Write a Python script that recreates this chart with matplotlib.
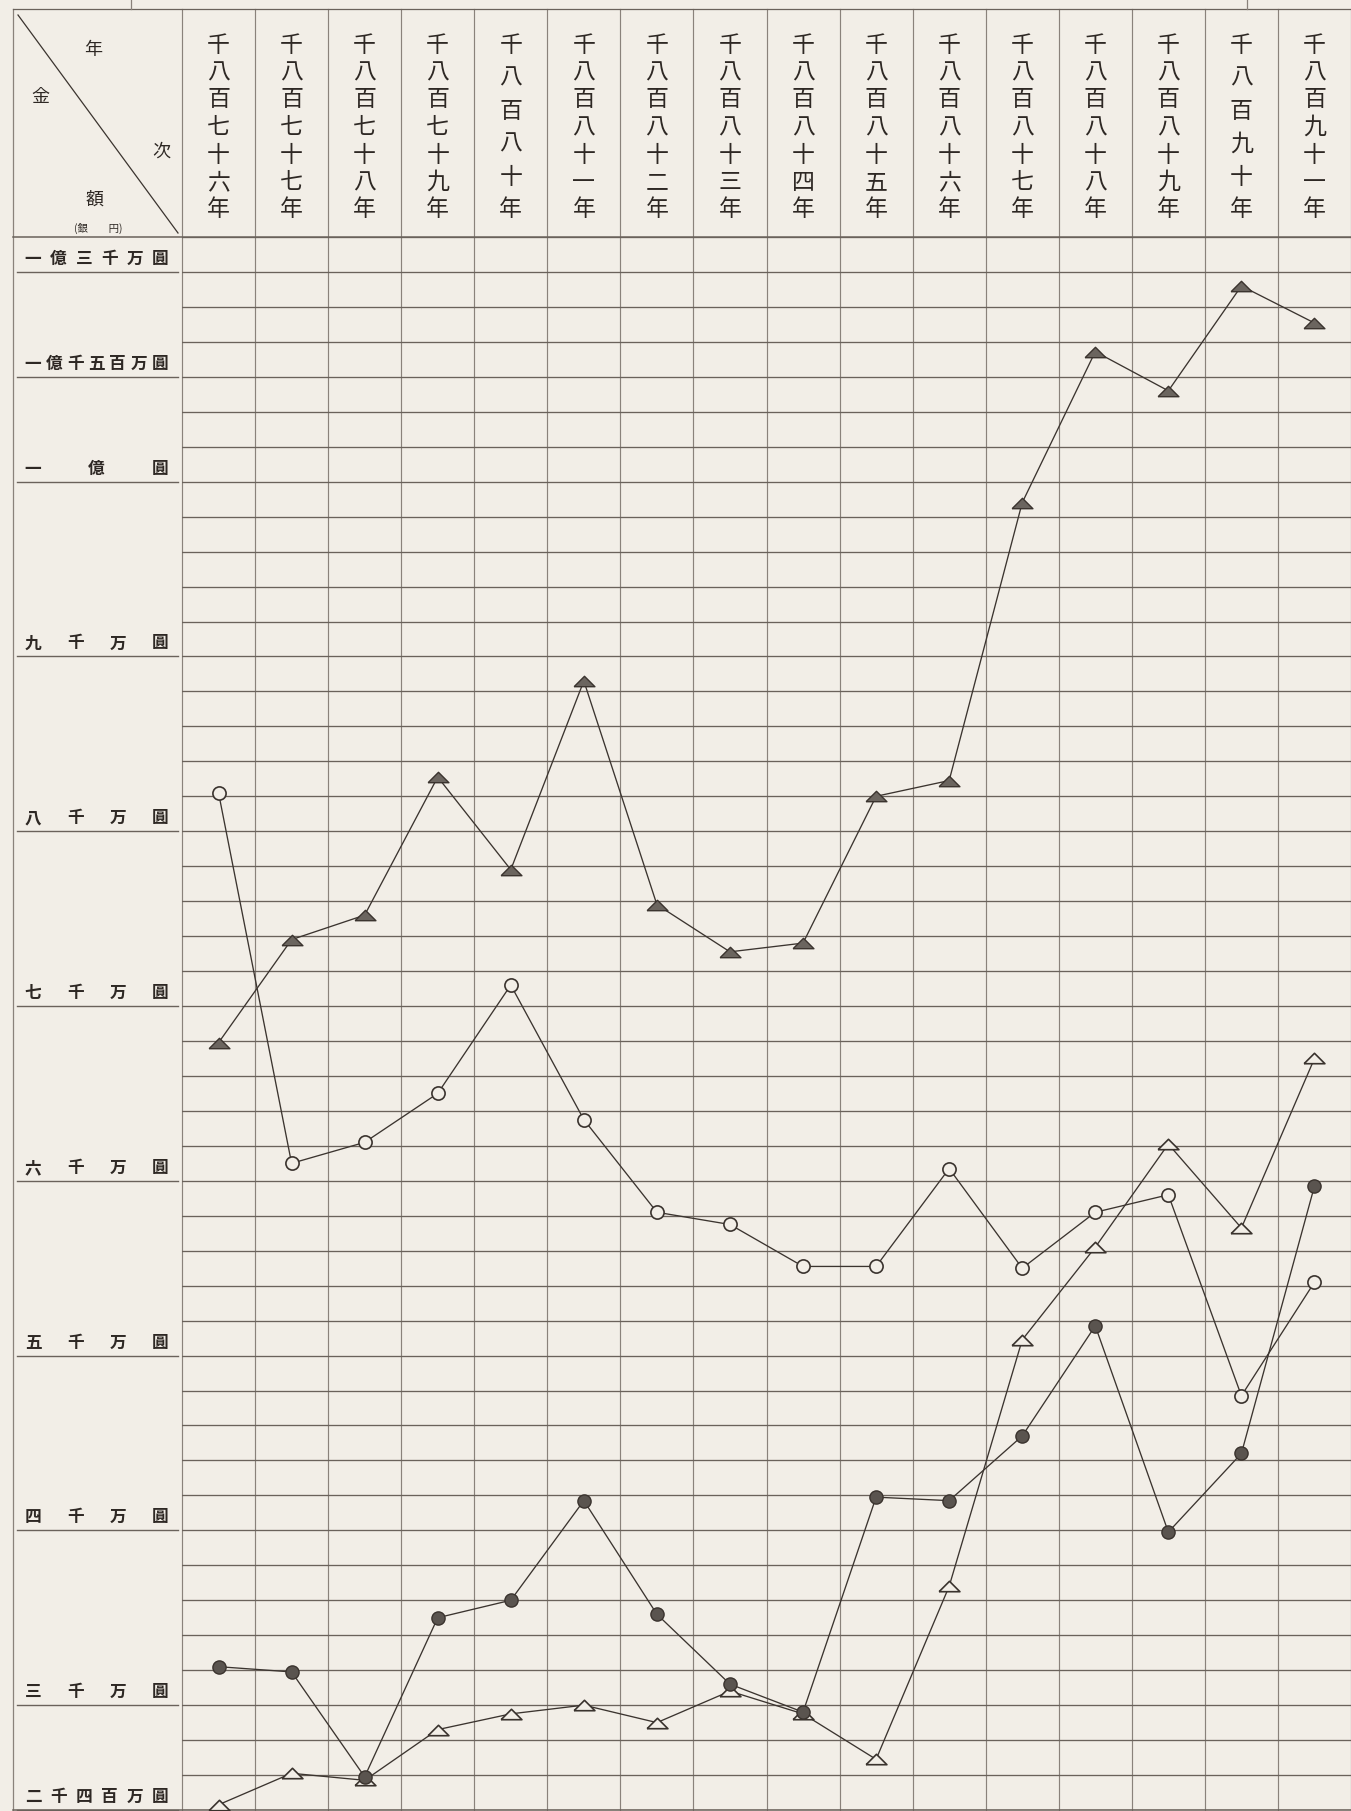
import numpy as np
import matplotlib
matplotlib.use("Agg")
import matplotlib.pyplot as plt
import matplotlib.transforms as mtransforms

# ---------------- data (values in millions of yen) ----------------
years = ["千八百七十六年", "千八百七十七年", "千八百七十八年", "千八百七十九年",
         "千八百八十年", "千八百八十一年", "千八百八十二年", "千八百八十三年",
         "千八百八十四年", "千八百八十五年", "千八百八十六年", "千八百八十七年",
         "千八百八十八年", "千八百八十九年", "千八百九十年", "千八百九十一年"]

filled_triangle = [67.9, 73.8, 75.2, 83.1, 77.8, 88.6, 75.8, 73.1,
                   73.6, 82.0, 82.9, 98.8, 118.6, 113.0, 128.0, 122.7]
open_circle = [82.2, 61.0, 62.2, 65.0, 71.2, 63.5, 58.2, 57.5,
               55.1, 55.1, 60.7, 55.0, 58.2, 59.2, 47.7, 54.2]
open_triangle = [24.3, 26.1, 25.7, 28.6, 29.5, 30.0, 29.0, 30.8,
                 29.5, 26.9, 36.8, 50.9, 56.2, 62.1, 57.3, 67.0]
filled_circle = [32.2, 31.9, 25.9, 35.0, 36.0, 41.7, 35.2, 31.2,
                 29.6, 41.9, 41.7, 45.4, 51.7, 39.9, 44.4, 59.7]

ylabel_values = [130, 115, 100, 90, 80, 70, 60, 50, 40, 30, 24]
ylabel_texts = ["一億三千万圓", "一億千五百万圓", "一億圓", "九千万圓", "八千万圓",
                "七千万圓", "六千万圓", "五千万圓", "四千万圓", "三千万圓", "二千四百万圓"]

# ---------------- style / layout ----------------
W, H, DPI = 1351, 1811, 100
PAPER = '#f2eee7'
INK = '#3b342f'
GRID_H = '#6a625b'
GRID_V = '#8a827b'
TEXT = '#2e2824'
plt.rcParams['font.family'] = ['Noto Sans CJK JP', 'DejaVu Sans']

LEFT_BORDER = 13
LEFT = 182
TOP_FRAME = 9
HEAD_BOT = 237
BOTTOM = 1810

fig = plt.figure(figsize=(W / DPI, H / DPI), dpi=DPI, facecolor=PAPER)
ov = fig.add_axes([0, 0, 1, 1], zorder=0)
ov.set_xlim(0, W)
ov.set_ylim(H, 0)
ov.axis('off')

ax = fig.add_axes([LEFT / W, (H - BOTTOM) / H, (W - LEFT) / W, (BOTTOM - HEAD_BOT) / H],
                  zorder=1)
ax.patch.set_visible(False)


def fwd(v):
    v = np.asarray(v, float)
    return np.where(v <= 100, v, 100 + (v - 100) * 0.4)


def inv(u):
    u = np.asarray(u, float)
    return np.where(u <= 100, u, 100 + (u - 100) / 0.4)


ax.set_yscale('function', functions=(fwd, inv))
ax.set_ylim(24, 135)
n = len(years)
x = np.arange(n)
ax.set_xlim(-0.5, n - 0.5)
grid_vals = list(np.arange(24, 100, 2)) + list(np.arange(100, 136, 5))
ax.set_yticks(grid_vals)
ax.set_xticks([])
ax.minorticks_off()
ax.tick_params(left=False, labelleft=False, bottom=False, labelbottom=False)
ax.grid(axis='y', color=GRID_H, lw=0.95)
for s in ax.spines.values():
    s.set_visible(False)

# blended transforms
tx_col = mtransforms.blended_transform_factory(ax.transData, ov.transData)   # x: year index, y: pixels
tx_row = mtransforms.blended_transform_factory(ov.transData, ax.transData)   # x: pixels, y: value

# vertical column lines (header + plot)
for b in np.arange(-0.5, n, 1.0):
    ov.plot([b, b], [TOP_FRAME, BOTTOM], transform=tx_col, color=GRID_V, lw=0.85)
# outer frame of label column
ov.plot([LEFT_BORDER, LEFT_BORDER], [TOP_FRAME, BOTTOM], color=GRID_V, lw=0.9)
ov.plot([LEFT_BORDER, W], [TOP_FRAME, TOP_FRAME], color=GRID_H, lw=0.9)
ov.plot([LEFT_BORDER, W], [HEAD_BOT, HEAD_BOT], color=GRID_H, lw=1.1)
ov.plot([LEFT_BORDER, W], [BOTTOM, BOTTOM], color=GRID_H, lw=1.1)
# small ticks above frame
ov.plot([131, 131], [0, TOP_FRAME], color=GRID_V, lw=0.9)
ov.plot([1247, 1247], [0, TOP_FRAME], color=GRID_V, lw=0.9)

# label column lines and labels
for v, lab in zip(ylabel_values, ylabel_texts):
    ov.plot([LEFT_BORDER + 4, LEFT - 4], [v, v], transform=tx_row, color=GRID_H, lw=1.0)
    chars = list(lab)
    m = len(chars)
    off = mtransforms.offset_copy(tx_row, fig=fig, y=13, units='dots')
    for k, ch in enumerate(chars):
        xp = 33 + (160 - 33) * k / (m - 1)
        ov.text(xp, v, ch, transform=off, ha='center', va='center',
                fontsize=12, fontweight='bold', color=TEXT)

# header corner box
ov.plot([18, 178], [15, 233], color=INK, lw=0.9)
ov.text(93, 50, '年', ha='center', va='center', fontsize=13, color=TEXT)
ov.text(40, 97, '金', ha='center', va='center', fontsize=13, color=TEXT)
ov.text(161, 152, '次', ha='center', va='center', fontsize=13, color=TEXT)
ov.text(95, 200, '額', ha='center', va='center', fontsize=13, color=TEXT)
ov.text(98, 228, '(銀　　円)', ha='center', va='center', fontsize=7.5, color=TEXT)

# header year texts (vertical, justified)
for i, lab in enumerate(years):
    chars = list(lab)
    m = len(chars)
    for k, ch in enumerate(chars):
        yp = 45 + (210 - 45) * k / (m - 1)
        ov.text(i, yp, ch, transform=tx_col, ha='center', va='center',
                fontsize=16.5, color=TEXT)

# ---------------- series ----------------
tri = [(-1, -0.5), (1, -0.5), (0, 0.5), (-1, -0.5)]
common = dict(color=INK, lw=0.95, clip_on=False)
ax.plot(x, filled_triangle, marker=tri, ms=15, mfc='#6b655f', mec='#3a332e', mew=1.0,
        zorder=3, **common)
ax.plot(x, open_circle, marker='o', ms=9.5, mfc=PAPER, mec='#3a332e', mew=1.2,
        zorder=3, **common)
ax.plot(x, open_triangle, marker=tri, ms=15, mfc=PAPER, mec='#3a332e', mew=1.2,
        zorder=3, **common)
ax.plot(x, filled_circle, marker='o', ms=9.5, mfc='#5a544f', mec='#3a332e', mew=1.0,
        zorder=3, **common)

fig.savefig('out.png', dpi=DPI, facecolor=PAPER)
